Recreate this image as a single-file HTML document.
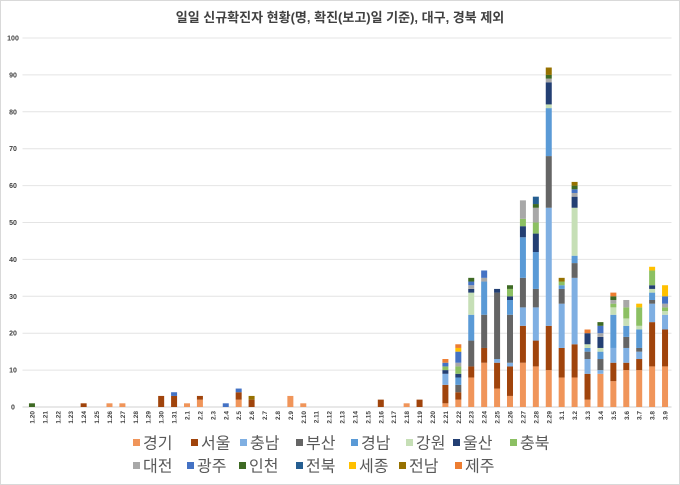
<!DOCTYPE html>
<html><head><meta charset="utf-8"><style>
body{margin:0;background:#fff;}
#wrap{position:relative;width:680px;height:485px;overflow:hidden;font-family:"Liberation Sans","Noto Sans CJK KR",sans-serif;}
svg{position:absolute;left:0;top:0;}
</style></head><body>
<div id="wrap">
<svg id="chart" width="680" height="485">
<rect x="0.5" y="0.5" width="679" height="484" fill="#fff" stroke="#d9d9d9"/>
<text x="340" y="22" text-anchor="middle" font-size="13" font-weight="bold" fill="#404040" font-family="Liberation Sans, Noto Sans CJK KR, sans-serif">일일 신규확진자 현황(명, 확진(보고)일 기준), 대구, 경북 제외</text>
<g id="grid"></g><g id="bars"></g><g id="xlabels"></g><g id="legend"></g>
</svg>
</div>
<script>
const categories=["1.20","1.21","1.22","1.23","1.24","1.25","1.26","1.27","1.28","1.29","1.30","1.31","2.1","2.2","2.3","2.4","2.5","2.6","2.7","2.8","2.9","2.10","2.11","2.12","2.13","2.14","2.15","2.16","2.17","2.18","2.19","2.20","2.21","2.22","2.23","2.24","2.25","2.26","2.27","2.28","2.29","3.1","3.2","3.3","3.4","3.5","3.6","3.7","3.8","3.9"];
const seriesNames=["경기","서울","충남","부산","경남","강원","울산","충북","대전","광주","인천","전북","세종","전남","제주"];
const seriesColors=["#F0955A","#A0440C","#7FAFE2","#656565","#5A9AD6","#C6DFB6","#233F73","#8CC063","#A8A8A8","#4472C4","#3E6A24","#255E91","#FFC000","#967100","#ED7D31"];
const gyeonggi=[0,0,0,0,0,0,1,1,0,0,0,0,1,2,0,0,2,0,0,0,3,1,0,0,0,0,0,0,0,1,0,0,1,2,8,12,5,3,12,11,10,8,8,2,9,7,10,10,11,11];
const seoul   =[0,0,0,0,1,0,0,0,0,0,3,3,0,1,0,0,2,2,0,0,0,0,0,0,0,0,0,2,0,0,2,0,5,2,3,4,7,8,10,7,12,8,9,7,0,5,2,3,12,10];
const chungnam=[0,0,0,0,0,0,0,0,0,0,0,0,0,0,0,0,0,0,0,0,0,0,0,0,0,0,0,0,0,0,0,0,3,0,0,0,1,1,5,9,32,12,18,4,1,4,4,2,5,4];
const busan   =[0,0,0,0,0,0,0,0,0,0,0,0,0,0,0,0,0,0,0,0,0,0,0,0,0,0,0,0,0,0,0,0,0,2,7,9,18,13,8,5,14,4,4,2,3,0,3,1,1,0];
const gyeongnam=[0,0,0,0,0,0,0,0,0,0,0,0,0,0,0,0,0,0,0,0,0,0,0,0,0,0,0,0,0,0,0,0,0,2,7,9,0,4,11,10,13,1,2,1,2,9,3,5,2,0];
const gangwon =[0,0,0,0,0,0,0,0,0,0,0,0,0,0,0,0,0,0,0,0,0,0,0,0,0,0,0,0,0,0,0,0,0,0,6,0,0,0,0,0,1,0,13,1,1,2,2,1,1,1];
const ulsan   =[0,0,0,0,0,0,0,0,0,0,0,0,0,0,0,0,0,0,0,0,0,0,0,0,0,0,0,0,0,0,0,0,1,1,1,0,1,1,3,5,6,0,3,3,3,0,0,0,1,0];
const chungbuk=[0,0,0,0,0,0,0,0,0,0,0,0,0,0,0,0,0,0,0,0,0,0,0,0,0,0,0,0,0,0,0,0,1,2,0,0,0,2,2,3,0,1,0,0,0,1,3,5,4,1];
const daejeon =[0,0,0,0,0,0,0,0,0,0,0,0,0,0,0,0,0,0,0,0,0,0,0,0,0,0,0,0,0,0,0,0,0,1,1,1,0,0,5,4,1,0,1,0,1,1,2,0,0,1];
const gwangju =[0,0,0,0,0,0,0,0,0,0,0,1,0,0,0,1,1,0,0,0,0,0,0,0,0,0,0,0,0,0,0,0,1,3,1,2,0,0,0,0,0,0,1,0,2,0,0,0,0,2];
const incheon =[1,0,0,0,0,0,0,0,0,0,0,0,0,0,0,0,0,0,0,0,0,0,0,0,0,0,0,0,0,0,0,0,0,0,1,0,0,1,0,1,1,0,1,0,1,1,0,0,0,0];
const jeonbuk =[0,0,0,0,0,0,0,0,0,0,0,0,0,0,0,0,0,0,0,0,0,0,0,0,0,0,0,0,0,0,0,0,0,0,0,0,0,0,0,2,0,0,0,0,0,0,0,0,0,0];
const sejong  =[0,0,0,0,0,0,0,0,0,0,0,0,0,0,0,0,0,0,0,0,0,0,0,0,0,0,0,0,0,0,0,0,0,1,0,0,0,0,0,0,0,0,0,0,0,0,0,1,1,3];
const jeonnam =[0,0,0,0,0,0,0,0,0,0,0,0,0,0,0,0,0,1,0,0,0,0,0,0,0,0,0,0,0,0,0,0,0,0,0,0,0,0,0,0,2,1,1,0,0,0,0,0,0,0];
const jeju    =[0,0,0,0,0,0,0,0,0,0,0,0,0,0,0,0,0,0,0,0,0,0,0,0,0,0,0,0,0,0,0,0,1,1,0,0,0,0,0,0,0,0,0,1,0,1,0,0,0,0];
const seriesValues=[gyeonggi,seoul,chungnam,busan,gyeongnam,gangwon,ulsan,chungbuk,daejeon,gwangju,incheon,jeonbuk,sejong,jeonnam,jeju];
const yTicks=[0,10,20,30,40,50,60,70,80,90,100];

const NS="http://www.w3.org/2000/svg";
const X0=25.5,X1=671.5,Y0=407,Y100=38;
const band=(X1-X0)/categories.length;
function xPos(i){return X0+band*(i+0.5);}
function yPos(v){return Y0-(Y0-Y100)*v/100;}
function mk(tag,attrs,parent){const e=document.createElementNS(NS,tag);for(const k in attrs)e.setAttribute(k,attrs[k]);parent.appendChild(e);return e;}
const grid=document.getElementById('grid');
yTicks.forEach(t=>{
  const l=mk('line',{x1:X0-3,x2:X1,y1:yPos(t),y2:yPos(t),stroke:t===0?'#d0d0d0':'#e4e4e4','stroke-width':1},grid);
  
  
  const tx=mk('text',{x:13,y:yPos(t)+2.5,'text-anchor':'middle','font-size':7,'font-weight':'bold',fill:'#404040'},grid);
  tx.textContent=t;
  
  
});
const bars=document.getElementById('bars');
categories.forEach((c,i)=>{
  let acc=0;
  seriesValues.forEach((arr,s)=>{
    const v=arr[i];if(!v)return;
    const r=mk('rect',{x:xPos(i)-3,y:yPos(acc+v),width:6,height:yPos(acc)-yPos(acc+v),fill:seriesColors[s]},bars);
    
    
    acc+=v;
  });
});
const xl=document.getElementById('xlabels');
categories.forEach((c,i)=>{
  const x=xPos(i)+2.5,y=411;
  const t=mk('text',{x:x,y:y,transform:`rotate(-90 ${x} ${y})`,'text-anchor':'end','font-size':6.5,'font-weight':'bold',fill:'#404040'},xl);
  t.textContent=c;
  
  
});
const lg=document.getElementById('legend');
const legX=[133,191,240,296,351,406,453,510,133,187,239,296,349,399,455];
seriesNames.forEach((n,s)=>{
  const row=s<8?0:1;const cy=row?466:443;
  const g=mk('g',{},lg);
  
  
  mk('rect',{x:legX[s],y:cy-4,width:7,height:7,fill:seriesColors[s]},g);
  const t=mk('text',{x:legX[s]+10,y:cy+5.5,'font-size':16,fill:'#595959','font-family':'Liberation Sans, Noto Sans CJK KR, sans-serif'},g);
  t.textContent=n;
});
</script>
</body></html>
